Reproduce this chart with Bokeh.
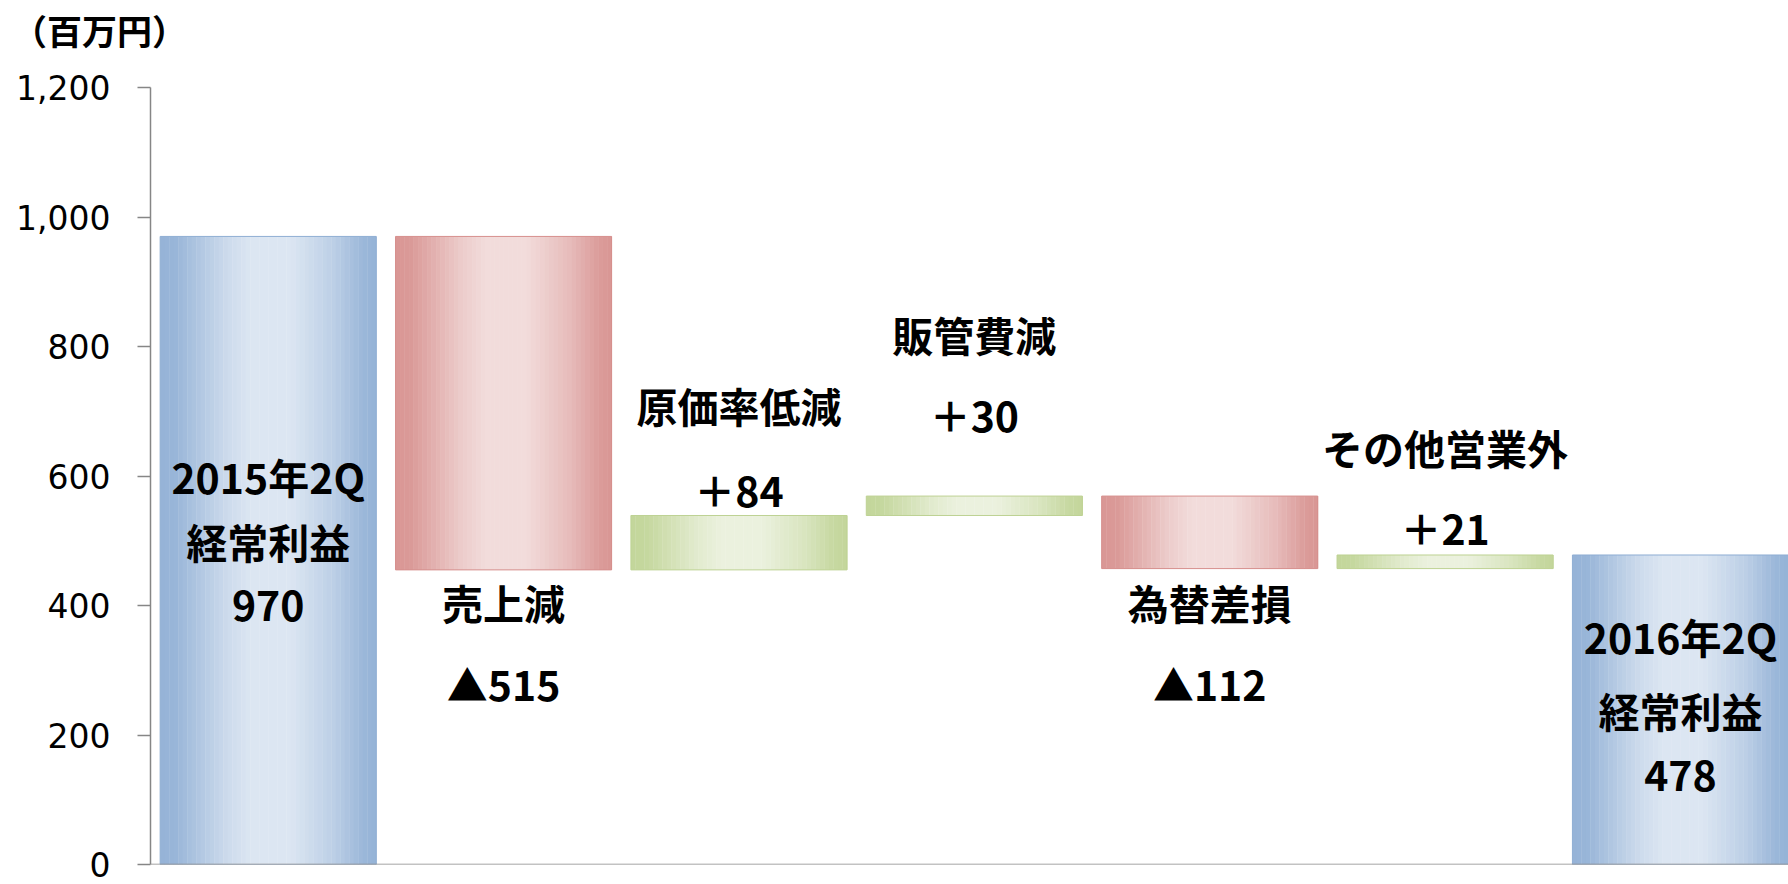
import numpy as np
from bokeh.plotting import figure
from bokeh.models import Range1d, FixedTicker, NumeralTickFormatter, Span, Div
from bokeh.layouts import column
from bokeh.core.properties import value
from bokeh.embed import file_html
from bokeh.resources import INLINE

# ---------------- data ----------------
categories = ["2015年2Q経常利益", "売上減", "原価率低減", "販管費減", "為替差損", "その他営業外", "2016年2Q経常利益"]
changes = [970, -515, 84, 30, -112, 21, 478]
kinds = ["total", "down", "up", "up", "down", "up", "total"]
label_lines = [
    ["2015年2Q", "経常利益", "970"],
    ["売上減", "▲515"],
    ["原価率低減", "＋84"],
    ["販管費減", "＋30"],
    ["為替差損", "▲112"],
    ["その他営業外", "＋21"],
    ["2016年2Q", "経常利益", "478"],
]
label_y = [
    [600, 500, 400],
    [405, 280],
    [710, 580],
    [819, 695],
    [405, 280],
    [645, 522],
    [353, 238, 136],
]
y_ticks = [0, 200, 400, 600, 800, 1000, 1200]
unit_label = "（百万円）"

palette = {
    "total": ("#95B3D7", "#DCE6F2"),
    "down": ("#D99694", "#F2DCDB"),
    "up": ("#C3D69B", "#EBF1DE"),
}
outline = {"total": "#8FAED3", "down": "#D68F8D", "up": "#BED293"}

FONT = "Noto Sans CJK JP"
TICK_FONT = "DejaVu Sans"
BAR_W = 0.918
N_STRIPS = 48
HEAD_H = 60

# ---------------- waterfall geometry ----------------
bottoms, tops = [], []
run = 0
for ch, k in zip(changes, kinds):
    if k == "total":
        bottoms.append(0)
        tops.append(ch)
        run = ch
    else:
        new = run + ch
        bottoms.append(min(run, new))
        tops.append(max(run, new))
        run = new


def hex2rgb(h):
    h = h.lstrip("#")
    return np.array([int(h[i:i + 2], 16) for i in (0, 2, 4)], dtype=float)


def rgb2hex(c):
    c = np.clip(np.round(c), 0, 255).astype(int)
    return "#%02x%02x%02x" % tuple(c)


stop_t = [0.0, 0.07, 0.30, 0.42, 0.60, 0.80, 0.94, 1.0]
stop_l = [0.0, 0.05, 0.75, 1.0, 1.0, 0.55, 0.08, 0.0]

head = Div(text=unit_label, width=1788, height=HEAD_H, margin=(0, 0, 0, 0),
           styles={"font-family": "'Noto Sans CJK JP'", "font-weight": "bold",
                   "font-size": "35px", "line-height": "1", "padding-top": "12px",
                   "padding-left": "12px", "color": "#000000",
                   "box-sizing": "border-box", "background-color": "white"})

p = figure(
    width=1788, height=884 - HEAD_H,
    x_range=Range1d(-0.5, 6 + BAR_W / 2), y_range=Range1d(0, 1200),
    x_axis_location=None, toolbar_location=None, output_backend="svg",
    min_border_left=150, min_border_right=0, min_border_top=87 - HEAD_H,
    min_border_bottom=20,
)
p.outline_line_color = None
p.xgrid.visible = False
p.ygrid.visible = False
p.background_fill_color = "white"
p.border_fill_color = "white"

sl, sr, sb, st, sc = [], [], [], [], []
ol, orr, ob, ot, oc = [], [], [], [], []
edges = np.linspace(0, 1, N_STRIPS + 1)
mids = (edges[:-1] + edges[1:]) / 2
for i, k in enumerate(kinds):
    left = i - BAR_W / 2
    dark, light = hex2rgb(palette[k][0]), hex2rgb(palette[k][1])
    lv = np.interp(mids, stop_t, stop_l)
    for j in range(N_STRIPS):
        sl.append(left + edges[j] * BAR_W)
        sr.append(left + edges[j + 1] * BAR_W + 0.0015)
        sb.append(bottoms[i])
        st.append(tops[i])
        sc.append(rgb2hex(dark + (light - dark) * lv[j]))
    ol.append(left)
    orr.append(left + BAR_W)
    ob.append(bottoms[i])
    ot.append(tops[i])
    oc.append(outline[k])

p.quad(left=sl, right=sr, bottom=sb, top=st, fill_color=sc, line_color=None)
p.quad(left=ol, right=orr, bottom=ob, top=ot, fill_color=None, line_color=oc, line_width=1)

# labels
tx, ty, tt = [], [], []
for i, (lines, ys) in enumerate(zip(label_lines, label_y)):
    for s, y in zip(lines, ys):
        tx.append(i)
        ty.append(y)
        tt.append(s)
p.text(x=tx, y=ty, text=tt, text_align="center", text_baseline="middle",
       text_font=value(FONT), text_font_style="bold", text_font_size="41px",
       text_color="#000000")

# bottom baseline
p.add_layout(Span(location=0, dimension="width", line_color="#868686", line_width=1.5))

# y axis
yax = p.yaxis[0]
yax.ticker = FixedTicker(ticks=y_ticks)
yax.formatter = NumeralTickFormatter(format="0,0")
yax.major_label_text_font = TICK_FONT
yax.major_label_text_font_size = "33px"
yax.major_label_text_color = "#000000"
yax.axis_line_color = "#868686"
yax.axis_line_width = 1.5
yax.major_tick_line_color = "#868686"
yax.major_tick_line_width = 1.5
yax.major_tick_out = 13
yax.major_tick_in = 0
yax.minor_tick_out = 0
yax.minor_tick_in = 0
yax.major_label_standoff = 27

layout = column(head, p, spacing=0)
open("out.html", "w").write(file_html(layout, INLINE))
